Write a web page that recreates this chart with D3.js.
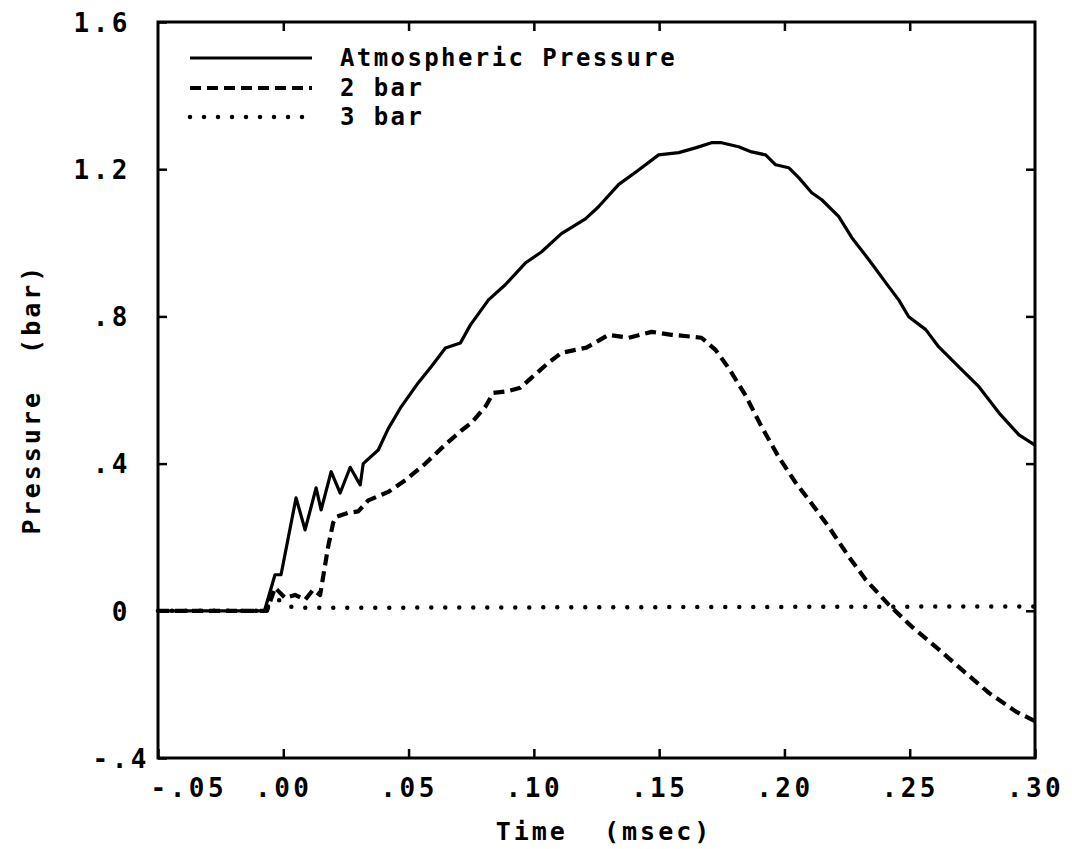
<!DOCTYPE html>
<html>
<head>
<meta charset="utf-8">
<script src="https://cdn.jsdelivr.net/npm/d3@7"></script>
<style>
  html, body { margin: 0; padding: 0; background: #fff; }
  svg { display: block; }
  text { font-family: "DejaVu Sans Mono", monospace; fill: #000; font-weight: bold; white-space: pre; }
</style>
</head>
<body>
<svg id="chart" width="1072" height="849"></svg>
<script>
// ---- data ----
const seriesNames = ["Atmospheric Pressure", "2 bar", "3 bar"];

const atmT = [-0.05, -0.0075, -0.0045, -0.0033, -0.0009, 0.0051, 0.0087, 0.0131, 0.0151, 0.0191, 0.0227, 0.0267, 0.0307, 0.0319, 0.0379, 0.0419, 0.0471, 0.0539, 0.0591, 0.0647, 0.0707, 0.0747, 0.0819, 0.0886, 0.0966, 0.1030, 0.1110, 0.1206, 0.1258, 0.1338, 0.1418, 0.1498, 0.1578, 0.1645, 0.1709, 0.1749, 0.1817, 0.1869, 0.1925, 0.1965, 0.2017, 0.2057, 0.2109, 0.2149, 0.2217, 0.2269, 0.2337, 0.2405, 0.2456, 0.2496, 0.2564, 0.2616, 0.2696, 0.2776, 0.2856, 0.2936, 0.3000];
const atmP = [0, 0, 0.07, 0.098, 0.098, 0.307, 0.22, 0.334, 0.274, 0.378, 0.32, 0.39, 0.342, 0.40, 0.437, 0.495, 0.555, 0.62, 0.664, 0.714, 0.728, 0.777, 0.845, 0.886, 0.945, 0.975, 1.025, 1.065, 1.098, 1.158, 1.198, 1.239, 1.245, 1.258, 1.272, 1.272, 1.261, 1.247, 1.239, 1.212, 1.204, 1.177, 1.136, 1.117, 1.071, 1.014, 0.954, 0.891, 0.845, 0.799, 0.764, 0.717, 0.663, 0.609, 0.538, 0.478, 0.45];

const bar2T = [-0.05, -0.0065, -0.0033, 0.0007, 0.0047, 0.0087, 0.0119, 0.0147, 0.0179, 0.0199, 0.0211, 0.0259, 0.0299, 0.0339, 0.0419, 0.0487, 0.0567, 0.0647, 0.0711, 0.0751, 0.0806, 0.0838, 0.0898, 0.0946, 0.0990, 0.1058, 0.1110, 0.1166, 0.1210, 0.1298, 0.1378, 0.1470, 0.1550, 0.1629, 0.1669, 0.1725, 0.1777, 0.1845, 0.1909, 0.1977, 0.2045, 0.2097, 0.2177, 0.2257, 0.2325, 0.2417, 0.2508, 0.2604, 0.2708, 0.2816, 0.2924, 0.3000];
const bar2P = [0, 0, 0.063, 0.035, 0.043, 0.03, 0.057, 0.043, 0.174, 0.239, 0.255, 0.266, 0.27, 0.30, 0.323, 0.355, 0.40, 0.452, 0.49, 0.511, 0.554, 0.592, 0.597, 0.606, 0.633, 0.674, 0.701, 0.709, 0.715, 0.75, 0.742, 0.758, 0.75, 0.745, 0.742, 0.709, 0.66, 0.585, 0.50, 0.418, 0.348, 0.302, 0.228, 0.147, 0.084, 0.016, -0.043, -0.098, -0.160, -0.223, -0.274, -0.30];

const bar3T = [-0.05, -0.0075, -0.0045, -0.002, 0.002, 0.006, 0.30];
const bar3P = [0, 0, 0.025, 0.03, 0.012, 0.008, 0.012];

const xTickValues = [-0.05, 0.00, 0.05, 0.10, 0.15, 0.20, 0.25, 0.30];
const xTickLabels = ["-.05", ".00", ".05", ".10", ".15", ".20", ".25", ".30"];
const yTickValues = [-0.4, 0, 0.4, 0.8, 1.2, 1.6];
const yTickLabels = ["-.4", "0", ".4", ".8", "1.2", "1.6"];

const xTitle = "Time  (msec)";
const yTitle = "Pressure  (bar)";

// ---- layout ----
const svg = d3.select("#chart");
const L = 158, R = 1035, T = 22, B = 758;

const x = d3.scaleLinear().domain([-0.05, 0.30]).range([L, R]);
const y = d3.scaleLinear().domain([-0.4, 1.6]).range([B, T]);

const styles = [
  { width: 3.2, dash: null, cap: "butt" },
  { width: 4.2, dash: "11,6", cap: "butt" },
  { width: 4.5, dash: "0,14", cap: "round" }
];

// frame
svg.append("rect")
  .attr("x", L).attr("y", T).attr("width", R - L).attr("height", B - T)
  .attr("fill", "none").attr("stroke", "#000").attr("stroke-width", 3);

// axes (inward ticks)
function styleAxis(g) {
  g.select(".domain").remove();
  g.selectAll(".tick line").attr("stroke", "#000").attr("stroke-width", 2.5);
  g.selectAll(".tick text").attr("font-size", 26).attr("letter-spacing", 3.5).attr("fill", "#000")
    .style("font-family", "'DejaVu Sans Mono', monospace").style("font-weight", "bold");
}

const xLab = new Map(xTickValues.map((v, i) => [v, xTickLabels[i]]));
const yLab = new Map(yTickValues.map((v, i) => [v, yTickLabels[i]]));

const gx = svg.append("g").attr("transform", `translate(0,${B})`)
  .call(d3.axisBottom(x).tickValues(xTickValues).tickSize(-9).tickPadding(21).tickFormat(d => xLab.get(d)));
styleAxis(gx);
gx.selectAll(".tick").filter(d => d === -0.05).select("text").attr("text-anchor", "start").attr("x", -8);

const gxTop = svg.append("g").attr("transform", `translate(0,${T})`)
  .call(d3.axisTop(x).tickValues(xTickValues.slice(1, -1)).tickSize(-9).tickFormat(""));
styleAxis(gxTop);

const gy = svg.append("g").attr("transform", `translate(${L},0)`)
  .call(d3.axisLeft(y).tickValues(yTickValues).tickSize(-9).tickPadding(27).tickFormat(d => yLab.get(d)));
styleAxis(gy);
gy.selectAll(".tick text").attr("dy", "0.36em");
gy.selectAll(".tick").filter(d => d === -0.4).select("text").attr("x", -8);

const gyR = svg.append("g").attr("transform", `translate(${R},0)`)
  .call(d3.axisRight(y).tickValues(yTickValues.slice(1, -1)).tickSize(-9).tickFormat(""));
styleAxis(gyR);

// axis titles
svg.append("text").attr("x", 604).attr("y", 840).attr("text-anchor", "middle")
  .attr("font-size", 25).attr("letter-spacing", 3).text(xTitle);
svg.append("text").attr("transform", "translate(40,399) rotate(-90)").attr("text-anchor", "middle")
  .attr("font-size", 25).attr("letter-spacing", 3).text(yTitle);

// series
const series = [
  atmT.map((t, i) => [t, atmP[i]]),
  bar2T.map((t, i) => [t, bar2P[i]]),
  bar3T.map((t, i) => [t, bar3P[i]])
];
const line = d3.line().x(d => x(d[0])).y(d => y(d[1]));

// draw dotted first, then dashed, then solid
[2, 1, 0].forEach(k => {
  svg.append("path").datum(series[k])
    .attr("d", line)
    .attr("fill", "none").attr("stroke", "#000")
    .attr("stroke-width", styles[k].width)
    .attr("stroke-linejoin", "round")
    .attr("stroke-linecap", styles[k].cap)
    .attr("stroke-dasharray", styles[k].dash);
});

// legend
const legY = [58, 88, 117];
seriesNames.forEach((name, k) => {
  svg.append("line").attr("x1", 190).attr("x2", 312).attr("y1", legY[k]).attr("y2", legY[k])
    .attr("stroke", "#000").attr("stroke-width", styles[k].width)
    .attr("stroke-linecap", styles[k].cap)
    .attr("stroke-dasharray", styles[k].dash);
  svg.append("text").attr("x", 340).attr("y", legY[k] + 8)
    .attr("font-size", 24).attr("letter-spacing", 2.4).text(name);
});
</script>
</body>
</html>
